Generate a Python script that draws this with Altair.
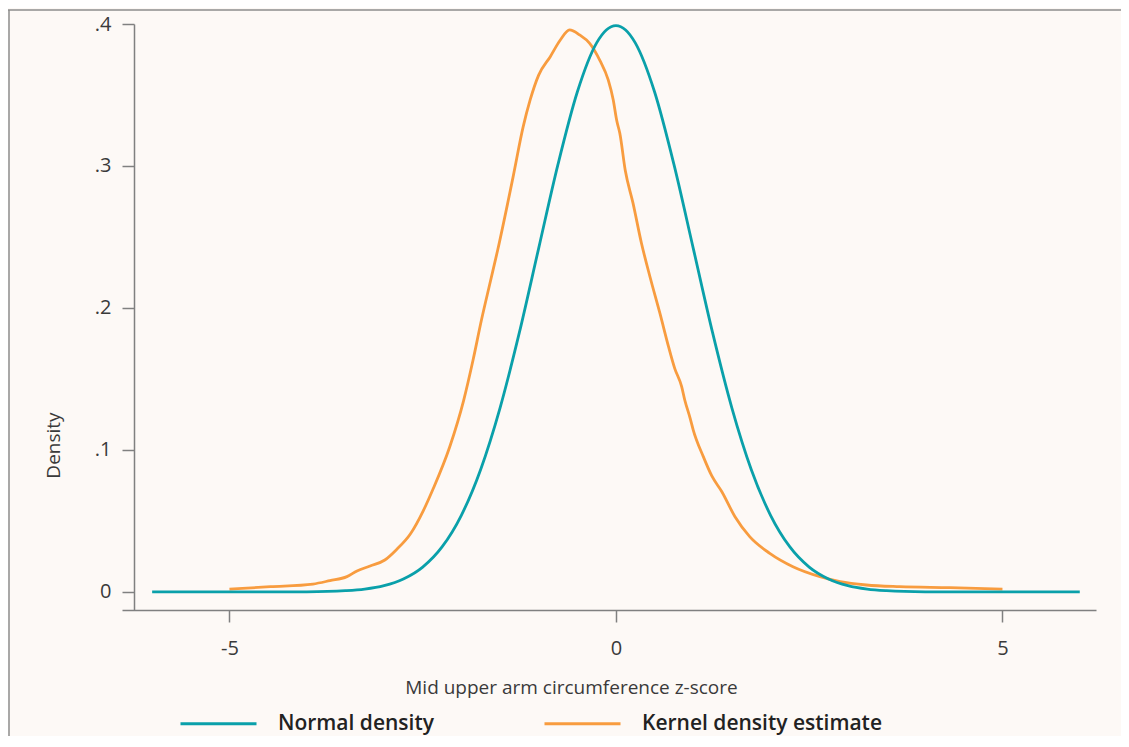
import altair as alt
import pandas as pd

# Normal density
normal_x = [-6, -5, -4.5, -4, -3.5, -3.25, -3, -2.75, -2.5, -2.25, -2, -1.75, -1.5, -1.25,
            -1, -0.75, -0.5, -0.25, -0.125, 0, 0.125, 0.25, 0.5, 0.75, 1, 1.25, 1.5, 1.75,
            2, 2.25, 2.5, 2.75, 3, 3.25, 3.5, 4, 4.5, 5, 6]
normal_y = [0.0, 0.0, 0.0, 0.0001, 0.0009, 0.0020, 0.0044, 0.0091, 0.0175, 0.0317, 0.0540,
            0.0863, 0.1295, 0.1826, 0.2420, 0.3011, 0.3521, 0.3867, 0.3958, 0.3989, 0.3958,
            0.3867, 0.3521, 0.3011, 0.2420, 0.1826, 0.1295, 0.0863, 0.0540, 0.0317, 0.0175,
            0.0091, 0.0044, 0.0020, 0.0009, 0.0001, 0.0, 0.0, 0.0]

# Kernel density estimate
kernel_x = [-5.00, -4.47, -3.92, -3.70, -3.48, -3.35, -3.18, -2.99, -2.84, -2.66, -2.49,
            -2.37, -2.15, -1.97, -1.85, -1.74, -1.63, -1.53, -1.33, -1.20, -1.11, -1.00,
            -0.85, -0.72, -0.60, -0.47, -0.34, -0.21, -0.10, -0.035, 0.01, 0.05, 0.12,
            0.22, 0.33, 0.44, 0.57, 0.68, 0.76, 0.85, 0.89, 0.96, 1.00, 1.13, 1.24, 1.37,
            1.54, 1.73, 1.99, 2.29, 2.64, 2.90, 3.24, 3.67, 4.32, 5.00]
kernel_y = [0.0020, 0.0037, 0.0056, 0.0080, 0.0108, 0.0148, 0.0183, 0.0225, 0.0298, 0.0408,
            0.0575, 0.0720, 0.1023, 0.1350, 0.1630, 0.1915, 0.2174, 0.2408, 0.2925, 0.3277,
            0.3465, 0.3640, 0.3770, 0.3887, 0.3958, 0.3923, 0.3864, 0.3746, 0.3606, 0.3465,
            0.3320, 0.3230, 0.2970, 0.2740, 0.2456, 0.2220, 0.1960, 0.1728, 0.1575, 0.1446,
            0.1352, 0.1223, 0.1140, 0.0953, 0.0817, 0.0706, 0.0530, 0.0390, 0.0272, 0.0178,
            0.0108, 0.0073, 0.0049, 0.0037, 0.0030, 0.0020]

series_names = ["Normal density", "Kernel density estimate"]
series_colors = ["#0aa0aa", "#f89c3f"]
y_ticks = [0, 0.1, 0.2, 0.3, 0.4]
x_ticks = [-5, 0, 5]

df = pd.concat([
    pd.DataFrame({"x": kernel_x, "y": kernel_y, "series": series_names[1]}),
    pd.DataFrame({"x": normal_x, "y": normal_y, "series": series_names[0]}),
], ignore_index=True)

FONT = "Open Sans"
AXIS_COL = "#808080"
TEXT_COL = "#3a3a3a"

lines = alt.Chart(df).mark_line(strokeWidth=2.8, interpolate="monotone").encode(
    x=alt.X("x:Q",
            scale=alt.Scale(domain=[-6.39, 6.21], nice=False, zero=False),
            axis=alt.Axis(values=x_ticks, grid=False, tickSize=12, tickColor=AXIS_COL,
                          tickWidth=1.5, domainColor=AXIS_COL, domainWidth=1.5,
                          labelFont=FONT, labelFontSize=20, labelFontWeight=400,
                          labelColor=TEXT_COL, labelPadding=16,
                          labelExpr="datum.value < 0 ? '-' + format(-datum.value, 'd') : format(datum.value, 'd')",
                          title="Mid upper arm circumference z-score",
                          titleFont=FONT, titleFontSize=19, titleFontWeight=400,
                          titleColor=TEXT_COL, titleX=449, titleY=77,
                          titleAlign="center", titleBaseline="middle")),
    y=alt.Y("y:Q",
            scale=alt.Scale(domain=[-0.0127, 0.4], nice=False, zero=False),
            axis=alt.Axis(values=y_ticks, grid=False, tickSize=12, tickColor=AXIS_COL,
                          tickWidth=1.5, domainColor=AXIS_COL, domainWidth=1.5, offset=-12,
                          labelFont=FONT, labelFontSize=20, labelFontWeight=400,
                          labelColor=TEXT_COL, labelPadding=11,
                          labelExpr="datum.value == 0 ? '0' : replace(format(datum.value, '.1f'), '0.', '.')",
                          title="Density", titleFont=FONT, titleFontSize=19,
                          titleFontWeight=400, titleColor=TEXT_COL, titleX=-81, titleY=421,
                          titleAngle=-90, titleAlign="center", titleBaseline="middle")),
    color=alt.Color("series:N",
                    scale=alt.Scale(domain=series_names, range=series_colors),
                    legend=alt.Legend(orient="none", legendX=57, legendY=660,
                                      direction="horizontal", symbolType="stroke",
                                      symbolSize=5776, symbolStrokeWidth=3,
                                      labelOffset=20, columnPadding=104, labelLimit=500,
                                      labelFont=FONT, labelFontSize=21,
                                      labelFontWeight=600, labelColor="#222222",
                                      title=None, padding=0)),
)

frame_df = pd.DataFrame({"k": [0]})
frame_top = alt.Chart(frame_df).mark_rule(color="#8c8c8c", strokeWidth=1.5).encode(
    x=alt.value(-114), x2=alt.value(1000), y=alt.value(-14))
frame_left = alt.Chart(frame_df).mark_rule(color="#8c8c8c", strokeWidth=1.5).encode(
    x=alt.value(-113), y=alt.value(-14), y2=alt.value(720))

chart = alt.layer(frame_top, frame_left, lines).properties(
    width=974, height=586,
    autosize=alt.AutoSizeParams(type="none"),
    padding={"left": 114, "top": 16, "right": 25, "bottom": 126},
    background="#fdf9f6",
).configure_view(strokeWidth=0)

chart.save("out.html", embed_options={"renderer": "svg", "actions": False})
